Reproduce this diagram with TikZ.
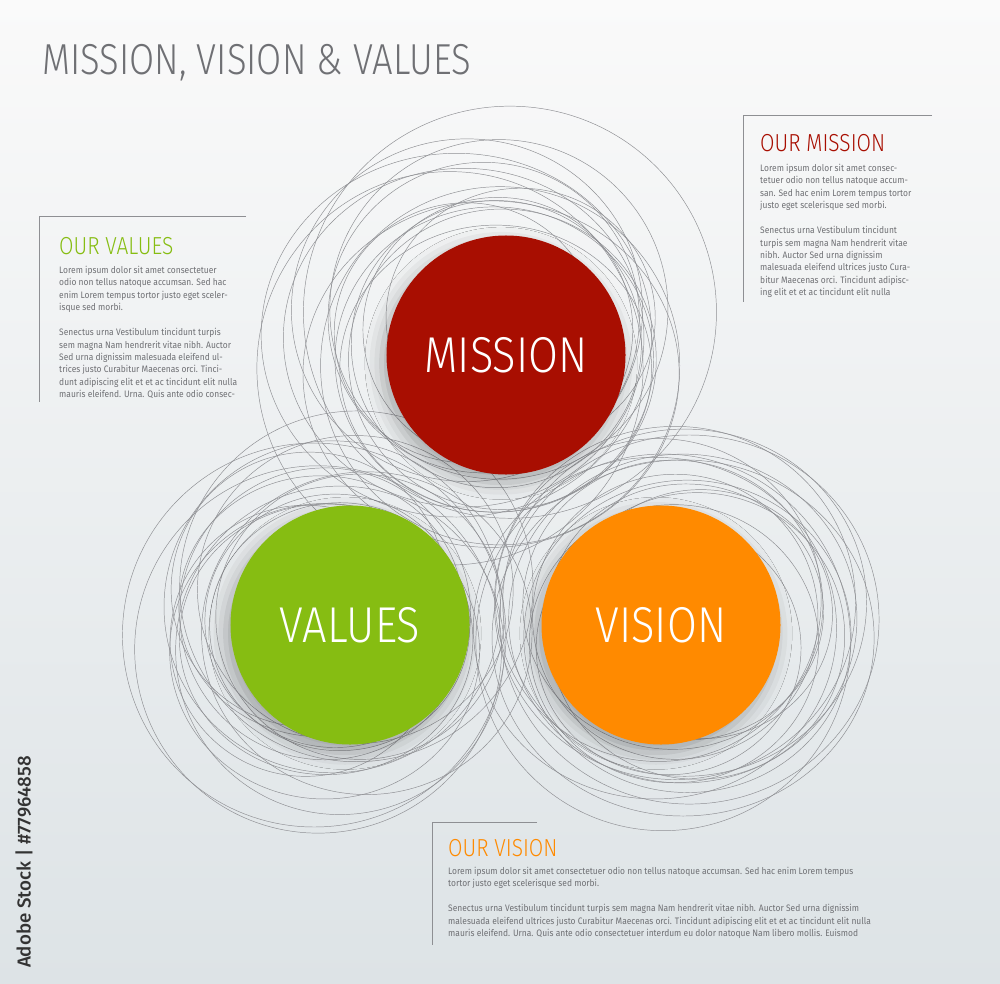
\documentclass[tikz,border=0pt]{standalone}
\usepackage{fontspec}
\usetikzlibrary{shadows.blur}
\setmainfont{Fira Sans}
\newfontfamily\titlefont{Fira Sans Light}[FakeStretch=0.84]
\newfontfamily\headfont{Fira Sans Light}[FakeStretch=0.85]
\newfontfamily\discfont{Fira Sans Light}[FakeStretch=0.86]
\newfontfamily\bodyfont{Fira Sans}[FakeStretch=0.9]
\newfontfamily\markfont{Fira Sans Medium}
\definecolor{missionred}{HTML}{A80E01}
\definecolor{valuesgreen}{HTML}{86BD12}
\definecolor{visionorange}{HTML}{FF8A00}
\definecolor{textgrey}{HTML}{6F7074}
\definecolor{linegrey}{HTML}{8E8F93}
\definecolor{bgtop}{HTML}{FAFAFA}
\definecolor{bgbottom}{HTML}{DDE3E6}

\begin{document}
\begin{tikzpicture}[x=0.03cm,y=-0.03cm,
  disc/.style={circle,minimum size=7.17cm,inner sep=0pt,text=white,
    font=\discfont\fontsize{43}{43}\selectfont,
    blur shadow={shadow xshift=-0.15cm,shadow yshift=-0.25cm,shadow blur radius=0.5cm,shadow opacity=30}},
  sketch/.style={draw=linegrey,line width=0.4pt},
  frameline/.style={draw=linegrey,line width=0.6pt},
  heading/.style={anchor=base west,inner sep=0pt,font=\headfont\fontsize{21}{21}\selectfont},
  blurb/.style={anchor=north west,align=left,inner sep=0pt,text=textgrey,
    font=\bodyfont\fontsize{8}{10.6}\selectfont}]
\useasboundingbox (0,0) rectangle (1000,984);
\shade[top color=bgtop,bottom color=bgbottom] (0,0) rectangle (1000,984);

% title
\node[anchor=base west,inner sep=0pt,text=textgrey,font=\titlefont\fontsize{37}{37}\selectfont]
  (title) at (42,75) {MISSION, VISION \& VALUES};

% anchors of the three discs
\coordinate (missionc) at (506,355);
\coordinate (valuesc) at (350,625);
\coordinate (visionc) at (661,625);

% sketched rings behind the discs
\pgfmathsetseed{4242}
\foreach \c/\ox/\oy/\spread/\rmax in {missionc/-22/-10/38/85, valuesc/-13/-6/33/72, visionc/15/0/25/62}{
  \foreach \i in {1,...,16}{
    \pgfmathsetmacro{\dx}{\ox+rand*\spread}
    \pgfmathsetmacro{\dy}{\oy+rand*\spread}
    \pgfmathsetmacro{\rx}{130+rnd*\rmax}
    \pgfmathsetmacro{\ry}{\rx*(0.92+rnd*0.1)}
    \draw[sketch] ([shift={(\dx,\dy)}]\c) ellipse [x radius=\rx, y radius=\ry];
  }
}

% discs
\node[disc,fill=missionred] (mission) at (missionc) {MISSION};
\node[disc,fill=valuesgreen] (values) at (valuesc) {VALUES};
\node[disc,fill=visionorange] (vision) at (visionc) {VISION};

% our mission
\draw[frameline] (932,115) -- (743,115) -- (743,302);
\node[heading,text=missionred] (missionhead) at (760,152) {OUR MISSION};
\node[blurb] (missiontext) at (760,164) {Lorem ipsum dolor sit amet consec-\\
tetuer odio non tellus natoque accum-\\
san. Sed hac enim Lorem tempus tortor\\
justo eget scelerisque sed morbi.\\[10.6pt]
Senectus urna Vestibulum tincidunt\\
turpis sem magna Nam hendrerit vitae\\
nibh. Auctor Sed urna dignissim\\
malesuada eleifend ultrices justo Cura-\\
bitur Maecenas orci. Tincidunt adipisc-\\
ing elit et et ac tincidunt elit nulla};

% our values
\draw[frameline] (246,216) -- (39,216) -- (39,402);
\node[heading,text=valuesgreen] (valueshead) at (59,254) {OUR VALUES};
\node[blurb] (valuestext) at (59,266) {Lorem ipsum dolor sit amet consectetuer\\
odio non tellus natoque accumsan. Sed hac\\
enim Lorem tempus tortor justo eget sceler-\\
isque sed morbi.\\[10.6pt]
Senectus urna Vestibulum tincidunt turpis\\
sem magna Nam hendrerit vitae nibh. Auctor\\
Sed urna dignissim malesuada eleifend ul-\\
trices justo Curabitur Maecenas orci. Tinci-\\
dunt adipiscing elit et et ac tincidunt elit nulla\\
mauris eleifend. Urna. Quis ante odio consec-};

% our vision
\draw[frameline] (537,822) -- (432,822) -- (432,945);
\node[heading,text=visionorange] (visionhead) at (448,856) {OUR VISION};
\node[blurb] (visiontext) at (448,867) {Lorem ipsum dolor sit amet consectetuer odio non tellus natoque accumsan. Sed hac enim Lorem tempus\\
tortor justo eget scelerisque sed morbi.\\[10.6pt]
Senectus urna Vestibulum tincidunt turpis sem magna Nam hendrerit vitae nibh. Auctor Sed urna dignissim\\
malesuada eleifend ultrices justo Curabitur Maecenas orci. Tincidunt adipiscing elit et et ac tincidunt elit nulla\\
mauris eleifend. Urna. Quis ante odio consectetuer interdum eu dolor natoque Nam libero mollis. Euismod};

% side mark
\node[rotate=90,anchor=center,inner sep=0pt,text=black!80,font=\markfont\fontsize{16}{16}\selectfont]
  (stockmark) at (24,862) {Adobe Stock | \#77964858};
\end{tikzpicture}
\end{document}
